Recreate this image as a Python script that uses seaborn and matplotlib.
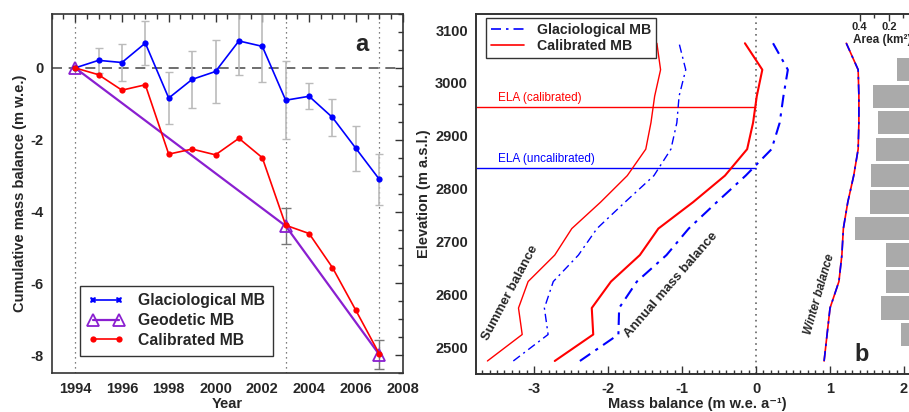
import numpy as np
import pandas as pd
import matplotlib
matplotlib.use('Agg')
import matplotlib.pyplot as plt
import matplotlib.transforms as mtransforms
from matplotlib.lines import Line2D
from matplotlib.ticker import MultipleLocator
import seaborn as sns

# panel a: cumulative mass balance
years = list(range(1994, 2008))
glacio_cum = [0.0, 0.21, 0.15, 0.69, -0.84, -0.32, -0.10, 0.75, 0.60, -0.90, -0.79, -1.38, -2.24, -3.10]
glacio_err = [0.0, 0.35, 0.51, 0.62, 0.72, 0.80, 0.87, 0.95, 1.00, 1.08, 0.36, 0.51, 0.62, 0.71]
calib_cum = [0.0, -0.19, -0.62, -0.47, -2.40, -2.26, -2.42, -1.96, -2.50, -4.38, -4.61, -5.56, -6.75, -7.96]
geod_years = [1994, 2003, 2007]
geod_cum = [0.0, -4.40, -7.98]
geod_err = [0.0, 0.50, 0.41]

# panel b: profiles vs elevation
elev = [2475, 2525, 2575, 2625, 2675, 2725, 2775, 2825, 2875, 2925, 2975, 3025, 3075]
summer_calib = [-3.63, -3.16, -3.21, -3.08, -2.72, -2.49, -2.10, -1.74, -1.49, -1.42, -1.37, -1.29, -1.34]
summer_glacio = [-3.28, -2.81, -2.86, -2.74, -2.40, -2.15, -1.77, -1.38, -1.15, -1.07, -1.04, -0.95, -1.04]
annual_calib = [-2.72, -2.20, -2.22, -1.96, -1.57, -1.32, -0.85, -0.42, -0.12, -0.04, 0.01, 0.085, -0.15]
annual_glacio = [-2.38, -1.86, -1.85, -1.61, -1.21, -0.91, -0.53, -0.14, 0.21, 0.32, 0.37, 0.43, 0.23]
winter = [0.92, 0.96, 1.00, 1.12, 1.16, 1.18, 1.24, 1.32, 1.38, 1.39, 1.39, 1.38, 1.22]
ela_calib = 2955
ela_uncalib = 2840

area_elev = [2525, 2575, 2625, 2675, 2725, 2775, 2825, 2875, 2925, 2975, 3025]
area_km2 = [0.117, 0.255, 0.22, 0.22, 0.434, 0.33, 0.324, 0.29, 0.276, 0.31, 0.145]

sns.set_theme(style='white')
plt.rcParams['font.family'] = ['Liberation Sans', 'DejaVu Sans']
plt.rcParams['font.weight'] = 'bold'
plt.rcParams['axes.labelweight'] = 'bold'
plt.rcParams['axes.edgecolor'] = '#333333'
plt.rcParams['axes.linewidth'] = 1.2
plt.rcParams['axes.unicode_minus'] = False

fig = plt.figure(figsize=(9.09, 4.12), dpi=100)
ax_a = fig.add_axes([0.0569, 0.094, 0.3861, 0.872])
ax_b = fig.add_axes([0.524, 0.093, 0.486, 0.874])

#%% panel a
for yr in geod_years:
    ax_a.axvline(yr, color='#555555', ls=(0, (1, 3)), lw=0.9, zorder=0)
ax_a.axhline(0, color='#555555', ls=(0, (6, 4)), lw=1.2, zorder=0)

ax_a.errorbar(years, glacio_cum, yerr=glacio_err, fmt='none', ecolor='#bbbbbb',
              elinewidth=1.2, capsize=3, zorder=1)
ax_a.errorbar(geod_years[1:], geod_cum[1:], yerr=geod_err[1:], fmt='none', ecolor='#777777',
              elinewidth=1.0, capsize=3.5, zorder=1)

df_a = pd.DataFrame({'year': years, 'glacio': glacio_cum, 'calib': calib_cum})
sns.lineplot(data=df_a, x='year', y='glacio', ax=ax_a, color='blue', lw=1.2,
             marker='o', markersize=4.5, markeredgewidth=0, zorder=3)
sns.lineplot(x=geod_years, y=geod_cum, ax=ax_a, color='#8a1fd0', lw=1.6,
             marker='^', markersize=8, markerfacecolor='none', markeredgecolor='#8a1fd0',
             markeredgewidth=1.3, zorder=2)
sns.lineplot(data=df_a, x='year', y='calib', ax=ax_a, color='red', lw=1.2,
             marker='o', markersize=4.5, markeredgewidth=0, zorder=4)

ax_a.set_xlim(1993, 2008)
ax_a.set_ylim(-8.5, 1.5)
ax_a.xaxis.set_major_locator(MultipleLocator(2))
ax_a.xaxis.set_minor_locator(MultipleLocator(0.5))
ax_a.yaxis.set_major_locator(MultipleLocator(2))
ax_a.yaxis.set_minor_locator(MultipleLocator(0.5))
ax_a.tick_params(which='both', direction='in', top=True, right=True, labelsize=10.5,
                 color='#333333', width=1.0)
ax_a.tick_params(which='major', length=6, pad=6)
ax_a.tick_params(which='minor', length=3.5)
ax_a.set_xlabel('Year', fontsize=10.5, labelpad=1)
ax_a.set_ylabel('Cumulative mass balance (m w.e.)', fontsize=10.5, labelpad=2)
ax_a.text(0.884, 0.915, 'a', transform=ax_a.transAxes, fontsize=17, fontweight='bold',
          ha='center', va='center')

handles_a = [
    Line2D([0], [0], color='blue', lw=1.2, marker='X', markersize=5, markeredgewidth=0),
    Line2D([0], [0], color='#8a1fd0', lw=1.6, marker='^', markersize=8,
           markerfacecolor='none', markeredgewidth=1.3),
    Line2D([0], [0], color='red', lw=1.2, marker='o', markersize=4.5, markeredgewidth=0),
]
leg_a = ax_a.legend(handles_a, ['Glaciological MB', 'Geodetic MB', 'Calibrated MB'],
                    loc='lower left', bbox_to_anchor=(0.081, 0.049), numpoints=2,
                    fontsize=11.3, frameon=True, fancybox=False, framealpha=1,
                    edgecolor='#333333', handlelength=2.3, handletextpad=0.9,
                    labelspacing=0.3, borderpad=0.5, borderaxespad=0)
leg_a.get_frame().set_linewidth(1.0)

#%% panel b
ax_b.axvline(0, color='#666666', ls=(0, (1, 2.5)), lw=1.2, zorder=0)
ax_b.hlines(ela_calib, -3.78, 0, color='red', lw=1.0)
ax_b.hlines(ela_uncalib, -3.78, 0, color='blue', lw=1.0)

df_b = pd.DataFrame({'elev': elev, 'sc': summer_calib, 'sg': summer_glacio,
                     'ac': annual_calib, 'ag': annual_glacio, 'w': winter})
dashdot = (0, (6, 3, 1.5, 3))
for col, c, ls, lw in [('sc', 'red', '-', 1.0), ('sg', 'blue', dashdot, 1.0),
                       ('ac', 'red', '-', 1.5), ('ag', 'blue', dashdot, 1.5),
                       ('w', 'red', '-', 1.2), ('w', 'blue', dashdot, 1.2)]:
    sns.lineplot(data=df_b, x=col, y='elev', ax=ax_b, sort=False, estimator=None,
                 color=c, lw=lw, linestyle=ls)

ax_b.set_xlim(-3.78, 2.19)
ax_b.set_ylim(2451, 3131)
ax_b.xaxis.set_major_locator(MultipleLocator(1))
ax_b.xaxis.set_minor_locator(MultipleLocator(0.1))
ax_b.yaxis.set_major_locator(MultipleLocator(100))
ax_b.yaxis.set_minor_locator(MultipleLocator(10))
ax_b.tick_params(which='both', direction='in', top=False, right=True, labelsize=10.5,
                 color='#333333', width=1.0)
ax_b.tick_params(which='major', length=6, pad=6)
ax_b.tick_params(which='minor', length=3)
ax_b.set_xlabel('Mass balance (m w.e. a⁻¹)', fontsize=10.5, labelpad=1)
ax_b.set_ylabel('Elevation (m a.s.l.)', fontsize=10.5, labelpad=3)

ax_b.text(-3.49, ela_calib + 6, 'ELA (calibrated)', color='red', fontsize=8.5,
          fontweight='normal', va='bottom', ha='left')
ax_b.text(-3.49, ela_uncalib + 6, 'ELA (uncalibrated)', color='blue', fontsize=8.5,
          fontweight='normal', va='bottom', ha='left')
ax_b.text(-3.32, 2604, 'Summer balance', rotation=62, fontsize=9.5, ha='center', va='center')
ax_b.text(-1.15, 2619, 'Annual mass balance', rotation=49, fontsize=9.5, ha='center', va='center')
ax_b.text(0.86, 2602, 'Winter balance', rotation=74, fontsize=8.5, style='italic',
          ha='center', va='center')
ax_b.text(1.43, 2487, 'b', fontsize=17, fontweight='bold', ha='center', va='center')

handles_b = [Line2D([0], [0], color='blue', lw=1.2, ls=dashdot),
             Line2D([0], [0], color='red', lw=1.2)]
leg_b = ax_b.legend(handles_b, ['Glaciological MB', 'Calibrated MB'], loc='upper left',
                    bbox_to_anchor=(0.023, 0.989), fontsize=10.2, frameon=True, fancybox=False,
                    framealpha=1, edgecolor='#333333', handlelength=2.3, handletextpad=0.9,
                    labelspacing=0.2, borderpad=0.35, borderaxespad=0)
leg_b.get_frame().set_linewidth(1.0)

# area histogram on a reversed top axis
ax_c = ax_b.twiny()
ax_c.barh(area_elev, area_km2, height=44, color='#aaaaaa', edgecolor='none', zorder=0)
ax_c.set_xlim(3.02, 0)
ax_c.set_xticks([0, 0.2, 0.4])
ax_c.set_xticklabels(['0.0', '0.2', '0.4'])
ax_c.set_xticks([0.1, 0.3], minor=True)
ax_c.tick_params(which='both', direction='in', top=True, labelsize=8, pad=-13,
                 color='#333333', width=1.0)
ax_c.tick_params(which='major', length=5)
ax_c.tick_params(which='minor', length=3)
trans = mtransforms.blended_transform_factory(ax_c.transData, ax_c.transAxes)
ax_c.text(0.445, 0.927, 'Area (km²)', transform=trans, fontsize=8.5,
          ha='left', va='center')
ax_c.grid(False)

fig.savefig('out.png', dpi=100)
